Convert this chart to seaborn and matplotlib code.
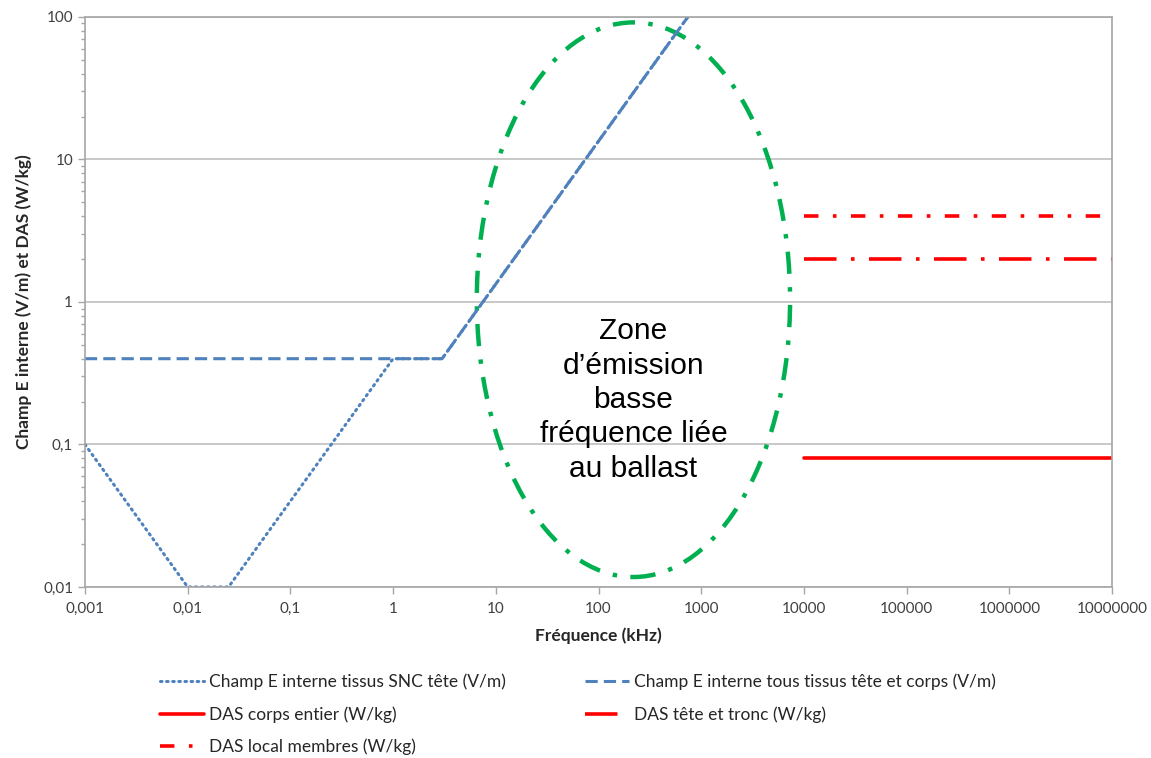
import numpy as np
import pandas as pd
import seaborn as sns
import matplotlib
matplotlib.use("Agg")
import matplotlib.pyplot as plt
from matplotlib.patches import Ellipse
from matplotlib.ticker import FixedLocator, LogLocator, NullFormatter, FixedFormatter

# --- data (frequency in kHz) ---
snc_f = [0.001, 0.01, 0.025, 1, 3, 740]
snc_v = [0.1, 0.01, 0.01, 0.4, 0.4, 100]
all_f = [0.001, 3, 740]
all_v = [0.4, 0.4, 100]
das_f = [10000, 10000000]
das_corps = [0.08, 0.08]
das_tete = [2, 2]
das_membres = [4, 4]

xticks = [0.001, 0.01, 0.1, 1, 10, 100, 1000, 10000, 100000, 1000000, 10000000]
xlabels = ["0,001", "0,01", "0,1", "1", "10", "100", "1000", "10000", "100000", "1000000", "10000000"]
yticks = [0.01, 0.1, 1, 10, 100]
ylabels = ["0,01", "0,1", "1", "10", "100"]

names = ["Champ E interne tissus SNC tête (V/m)",
         "Champ E interne tous tissus tête et corps (V/m)",
         "DAS corps entier (W/kg)",
         "DAS tête et tronc (W/kg)",
         "DAS local membres (W/kg)"]
zone_text = "Zone\nd’émission\nbasse\nfréquence liée\nau ballast"

sns.set_theme(style="white")
plt.rcParams['font.family'] = ['Lato', 'DejaVu Sans']

fig = plt.figure(figsize=(11.51, 7.58), dpi=100)
ax = fig.add_axes([0.0738, 0.2256, 0.8924, 0.752])

blue = "#4F81BD"
red = "#FF0000"
green = "#00B050"

sns.lineplot(x=snc_f, y=snc_v, ax=ax, color=blue, lw=2.2, linestyle=(0, (0.5, 1.5)),
             dash_capstyle="round", label=names[0])
sns.lineplot(x=all_f, y=all_v, ax=ax, color=blue, lw=2.2, linestyle=(0, (4, 2)), label=names[1])
sns.lineplot(x=das_f, y=das_corps, ax=ax, color=red, lw=2.6, linestyle="-", label=names[2])
sns.lineplot(x=das_f, y=das_tete, ax=ax, color=red, lw=2.6, linestyle=(0, (9, 4, 1, 4)), label=names[3])
sns.lineplot(x=das_f, y=das_membres, ax=ax, color=red, lw=2.6, linestyle=(0, (4, 4, 1, 4)), label=names[4])

ax.set_xscale("log")
ax.set_yscale("log")
ax.set_xlim(0.001, 1e7)
ax.set_ylim(0.01, 100)

ax.xaxis.set_major_locator(FixedLocator(xticks))
ax.xaxis.set_major_formatter(FixedFormatter(xlabels))
ax.xaxis.set_minor_locator(FixedLocator([]))
ax.yaxis.set_major_locator(FixedLocator(yticks))
ax.yaxis.set_major_formatter(FixedFormatter(ylabels))
ax.yaxis.set_minor_locator(LogLocator(base=10, subs=np.arange(2, 10)))
ax.yaxis.set_minor_formatter(NullFormatter())

ax.grid(axis="y", which="major", color="#BFBFBF", lw=1.2)
ax.grid(axis="x", visible=False)
for s in ax.spines.values():
    s.set_color("#A6A6A6")
    s.set_linewidth(1.2)
ax.tick_params(axis="both", which="major", direction="out", length=5, width=1, color="#A6A6A6",
               labelsize=11, labelcolor="#404040", left=True, bottom=True)
ax.tick_params(axis="y", which="minor", direction="out", length=3, width=1, color="#A6A6A6", left=True)
ax.tick_params(axis="x", pad=6)

ax.set_xlabel("Fréquence (kHz)", fontsize=12.5, fontweight="bold", labelpad=8)
ax.set_ylabel("Champ E interne (V/m) et DAS (W/kg)", fontsize=12.5, fontweight="bold", labelpad=8)

ell = Ellipse((0.534, 0.504), width=0.305, height=0.973, transform=ax.transAxes, fill=False,
              edgecolor=green, lw=3.2, linestyle=(0, (5, 3, 1, 3)), clip_on=False)
ax.add_patch(ell)
ax.text(0.534, 0.328, zone_text, transform=ax.transAxes, ha="center", va="center",
        fontsize=21.5, family=["Liberation Sans", "DejaVu Sans"], color="black", linespacing=1.29)

handles, labels = ax.get_legend_handles_labels()
order = [0, 2, 4, 1, 3]
ax.legend([handles[i] for i in order], [labels[i] for i in order], loc="upper left",
          bbox_to_anchor=(0.058, -0.125), ncol=2, frameon=False,
          fontsize=12.5, handlelength=2.5, columnspacing=4.6, labelspacing=0.9, handletextpad=0.3,
          labelcolor="#262626")

fig.savefig("out.png", dpi=100)
